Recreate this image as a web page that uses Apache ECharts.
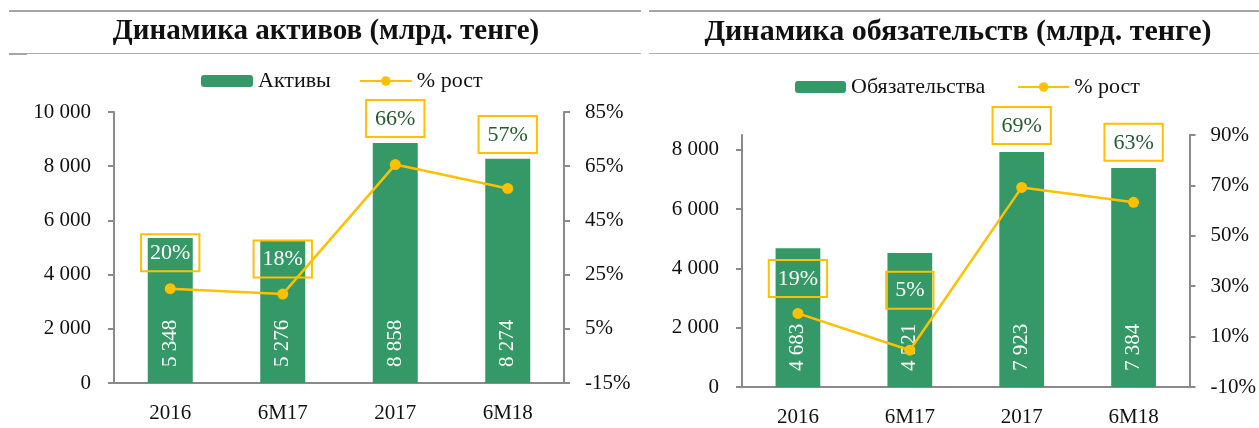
<!DOCTYPE html>
<html lang="ru">
<head>
  <meta charset="UTF-8">
  <title>Динамика активов и обязательств</title>
  <style>
    html, body { margin: 0; padding: 0; background: #fff; }
    #main { width: 1259px; height: 428px; }
  </style>
</head>
<body>
  <div id="main"></div>
  <script src="https://cdn.jsdelivr.net/npm/echarts@6/dist/echarts.min.js"></script>
  <script>
    // данные
    var categories = ['2016', '6M17', '2017', '6M18'];
    var assets = [5348, 5276, 8858, 8274];
    var assetsGrowth = [19.8, 17.8, 65.6, 56.8];
    var liabilities = [4683, 4521, 7923, 7384];
    var liabilitiesGrowth = [19.2, 4.6, 69.2, 63.3];

    var assetsTicks = [0, 2000, 4000, 6000, 8000, 10000];
    var assetsPctTicks = [-15, 5, 25, 45, 65, 85];
    var liabTicks = [0, 2000, 4000, 6000, 8000];
    var liabPctTicks = [-10, 10, 30, 50, 70, 90];

    // подписи % : отступ над точкой и лежит ли рамка на столбце
    var assetsLabelDist = [12, 11, 22, 30];
    var liabLabelDist = [11, 36, 38, 36];
    var assetsLabelOnBar = [true, true, false, false];
    var liabLabelOnBar = [true, true, false, false];

    var GREEN = '#349966';
    var GOLD = '#FFC000';
    var AXIS = '#8a8a8a';
    var FONT = '"Liberation Serif", "DejaVu Serif", serif';

    function fmt(v) {
      return String(v).replace(/\B(?=(\d{3})+(?!\d))/g, ' ');
    }

    function growthData(vals, dist, onBar) {
      return vals.map(function (v, i) {
        return {
          value: v,
          label: {
            distance: dist[i],
            color: onBar[i] ? '#fff' : '#245c2c'
          }
        };
      });
    }

    function valueAxis(gridIndex, min, max, ticks, pos, pct) {
      return {
        type: 'value',
        gridIndex: gridIndex,
        position: pos,
        min: min,
        max: max,
        splitLine: { show: false },
        axisLine: { show: true, lineStyle: { color: AXIS, width: 2 } },
        axisTick: { show: true, length: 6, lineStyle: { color: AXIS, width: 2 }, customValues: ticks },
        axisLabel: {
          customValues: ticks,
          color: '#111',
          fontFamily: FONT,
          fontSize: 21,
          margin: pct ? 21 : 23,
          formatter: function (v) { return pct ? v + '%' : fmt(v); }
        }
      };
    }

    function catAxis(gridIndex) {
      return {
        type: 'category',
        gridIndex: gridIndex,
        data: categories,
        axisLine: { lineStyle: { color: AXIS, width: 2 } },
        axisTick: { show: false },
        axisLabel: { color: '#111', fontFamily: FONT, fontSize: 21, margin: 20 }
      };
    }

    function barSeries(name, data, xi, yi) {
      return {
        name: name,
        type: 'bar',
        xAxisIndex: xi,
        yAxisIndex: yi,
        data: data,
        barWidth: '40%',
        itemStyle: { color: GREEN },
        label: {
          show: true,
          position: 'insideBottom',
          rotate: 90,
          align: 'left',
          verticalAlign: 'middle',
          distance: 16,
          color: '#fff',
          fontFamily: FONT,
          fontSize: 21,
          formatter: function (p) { return fmt(p.value); }
        }
      };
    }

    function lineSeries(data, xi, yi) {
      return {
        name: '% рост',
        type: 'line',
        xAxisIndex: xi,
        yAxisIndex: yi,
        data: data,
        z: 5,
        symbol: 'circle',
        symbolSize: 11,
        lineStyle: { color: GOLD, width: 2.5 },
        itemStyle: { color: GOLD },
        label: {
          show: true,
          position: 'top',
          fontFamily: FONT,
          fontSize: 22,
          lineHeight: 22,
          padding: [8, 9, 7, 9],
          borderColor: GOLD,
          borderWidth: 2,
          formatter: function (p) { return Math.round(p.value) + '%'; }
        }
      };
    }

    var legendText = { color: '#111', fontFamily: FONT, fontSize: 22 };

    var chart = echarts.init(document.getElementById('main'));
    chart.setOption({
      animation: false,
      graphic: [
        { type: 'line', shape: { x1: 9, y1: 11, x2: 641, y2: 11 }, style: { stroke: '#a6a6a6', lineWidth: 2 } },
        { type: 'line', shape: { x1: 9, y1: 53.5, x2: 641, y2: 53.5 }, style: { stroke: '#b0b0b0', lineWidth: 1 } },
        { type: 'line', shape: { x1: 9, y1: 54, x2: 27, y2: 54 }, style: { stroke: '#a6a6a6', lineWidth: 2 } },
        { type: 'line', shape: { x1: 649, y1: 11, x2: 1259, y2: 11 }, style: { stroke: '#a6a6a6', lineWidth: 2 } },
        { type: 'line', shape: { x1: 649, y1: 53.5, x2: 1259, y2: 53.5 }, style: { stroke: '#b0b0b0', lineWidth: 1 } },
        {
          type: 'text', x: 326, y: 32,
          style: { text: 'Динамика активов (млрд. тенге)', font: 'bold 29px ' + FONT, fill: '#111', textAlign: 'center', textVerticalAlign: 'middle' }
        },
        {
          type: 'text', x: 958, y: 32,
          style: { text: 'Динамика обязательств (млрд. тенге)', font: 'bold 30px ' + FONT, fill: '#111', textAlign: 'center', textVerticalAlign: 'middle' }
        }
      ],
      legend: [
        {
          data: ['Активы', '% рост'],
          left: 201, top: 70,
          padding: 0,
          itemWidth: 52, itemHeight: 12, itemGap: 28,
          textStyle: legendText,
          selectedMode: false
        },
        {
          data: ['Обязательства', '% рост'],
          left: 795, top: 76,
          padding: 0,
          itemWidth: 51, itemHeight: 12, itemGap: 32,
          textStyle: legendText,
          selectedMode: false
        }
      ],
      grid: [
        { left: 114, right: 695, top: 112, bottom: 45 },
        { left: 742, right: 68, top: 135, bottom: 40 }
      ],
      xAxis: [catAxis(0), catAxis(1)],
      yAxis: [
        valueAxis(0, 0, 10000, assetsTicks, 'left', false),
        valueAxis(0, -15, 85, assetsPctTicks, 'right', true),
        valueAxis(1, 0, 8500, liabTicks, 'left', false),
        valueAxis(1, -10, 90, liabPctTicks, 'right', true)
      ],
      series: [
        barSeries('Активы', assets, 0, 0),
        lineSeries(growthData(assetsGrowth, assetsLabelDist, assetsLabelOnBar), 0, 1),
        barSeries('Обязательства', liabilities, 1, 2),
        lineSeries(growthData(liabilitiesGrowth, liabLabelDist, liabLabelOnBar), 1, 3)
      ]
    });
  </script>
</body>
</html>
